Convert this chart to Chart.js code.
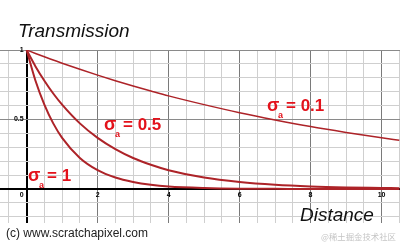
<!DOCTYPE html>
<html>
<head>
<meta charset="utf-8">
<script src="https://cdn.jsdelivr.net/npm/chart.js@4/dist/chart.umd.min.js"></script>
<style>
  body { margin: 0; background: #fff; }
  canvas { display: block; }
</style>
</head>
<body>
<canvas id="chart" width="400" height="244"></canvas>
<script>
// distance samples and transmission
let distances = [0, 0.25, 0.5, 0.75, 1, 1.5, 2, 2.5, 3, 3.5, 4, 5, 6, 7, 8, 9, 10, 10.5];
let sigma01 = [1, 0.975, 0.951, 0.928, 0.905, 0.861, 0.819, 0.779, 0.741, 0.705, 0.67, 0.607, 0.549, 0.497, 0.449, 0.407, 0.368, 0.35];
let sigma05 = [1, 0.882, 0.779, 0.687, 0.607, 0.472, 0.368, 0.287, 0.223, 0.174, 0.135, 0.082, 0.05, 0.03, 0.018, 0.011, 0.007, 0.005];
let sigma1 = [1, 0.779, 0.607, 0.472, 0.368, 0.223, 0.135, 0.082, 0.05, 0.03, 0.018, 0.007, 0.002, 0.001, 0, 0, 0, 0];

let xTickLabels = [0, 2, 4, 6, 8, 10];
let yTickLabels = [0.5, 1];

let curveColor = "#ad2328";
let labelColor = "#e3121b";

// grid every 0.5 along x, every 0.1 along y
let xGrid = [];
for (let i = -1; i <= 21; i++) xGrid.push(i / 2);
let yGrid = [];
for (let i = -2; i <= 10; i++) yGrid.push(i / 10);

function pts(ys) {
  return distances.map((d, i) => ({ x: d, y: ys[i] }));
}

function near(a, b) {
  return Math.abs(a - b) < 1e-6;
}

const decorations = {
  id: "decorations",
  afterDraw(chart) {
    const ctx = chart.ctx;
    const xs = chart.scales.x;
    const ys = chart.scales.y;
    ctx.save();

    // tick numbers
    ctx.fillStyle = "#000";
    ctx.font = "bold 7px 'Liberation Sans'";
    ctx.textBaseline = "middle";
    ctx.textAlign = "center";
    xTickLabels.forEach((v) => {
      let px = xs.getPixelForValue(v);
      if (v === 0) px -= 5;
      ctx.fillText(String(v), px, ys.getPixelForValue(0) + 6);
    });
    ctx.textAlign = "right";
    yTickLabels.forEach((v) => {
      ctx.fillText(String(v), xs.getPixelForValue(0) - 3, ys.getPixelForValue(v));
    });

    // axis titles
    ctx.textAlign = "left";
    ctx.textBaseline = "alphabetic";
    ctx.fillStyle = "#111";
    ctx.font = "italic 19px 'Liberation Sans'";
    ctx.fillText("Transmission", 18, 37);
    ctx.fillText("Distance", 300, 221);

    // credits
    ctx.font = "12px 'Liberation Sans'";
    ctx.fillStyle = "#222";
    ctx.fillText("(c) www.scratchapixel.com", 6, 237);
    ctx.font = "8.4px 'Noto Sans CJK SC'";
    ctx.fillStyle = "#c4c4c4";
    ctx.fillText("@稀土掘金技术社区", 321, 240);

    // curve labels
    ctx.fillStyle = labelColor;
    [
      [267, 111, "= 0.1"],
      [104, 130, "= 0.5"],
      [28, 181, "= 1"],
    ].forEach(([x, y, txt]) => {
      ctx.font = "bold 18px 'Liberation Sans'";
      ctx.fillText("σ", x, y);
      ctx.font = "bold 9px 'Liberation Sans'";
      ctx.fillText("a", x + 11, y + 7);
      ctx.font = "bold 17px 'Liberation Sans'";
      ctx.fillText(txt, x + 19, y);
    });
    ctx.restore();
  },
};

new Chart(document.getElementById("chart"), {
  type: "line",
  data: {
    datasets: [
      { data: pts(sigma01), borderColor: curveColor, borderWidth: 1.5 },
      { data: pts(sigma05), borderColor: curveColor, borderWidth: 2 },
      { data: pts(sigma1), borderColor: curveColor, borderWidth: 2 },
    ],
  },
  options: {
    responsive: false,
    animation: false,
    devicePixelRatio: 1,
    layout: { padding: { top: 50, bottom: 21, left: 0, right: 0 } },
    elements: {
      point: { radius: 0 },
      line: { cubicInterpolationMode: "monotone", fill: false },
    },
    plugins: {
      legend: { display: false },
      tooltip: { enabled: false },
    },
    scales: {
      x: {
        type: "linear",
        min: -0.75,
        max: 10.52,
        afterBuildTicks: (scale) => {
          scale.ticks = xGrid.map((v) => ({ value: v }));
        },
        ticks: { display: false },
        border: { display: false },
        grid: {
          drawTicks: false,
          color: (c) => {
            const v = c.tick.value;
            if (near(v, 0)) return "#000";
            if (near(v % 2, 0)) return "#7a7a7a";
            return "#cfcfcf";
          },
          lineWidth: (c) => (near(c.tick.value, 0) ? 2 : 1),
        },
      },
      y: {
        min: -0.245,
        max: 1,
        afterBuildTicks: (scale) => {
          scale.ticks = yGrid.map((v) => ({ value: v }));
        },
        ticks: { display: false },
        border: { display: false },
        grid: {
          drawTicks: false,
          color: (c) => {
            const v = c.tick.value;
            if (near(v, 0)) return "#000";
            if (near(v, 0.5) || near(v, 1)) return "#8a8a8a";
            return "#cfcfcf";
          },
          lineWidth: (c) => (near(c.tick.value, 0) ? 2 : 1),
        },
      },
    },
  },
  plugins: [decorations],
});
</script>
</body>
</html>
